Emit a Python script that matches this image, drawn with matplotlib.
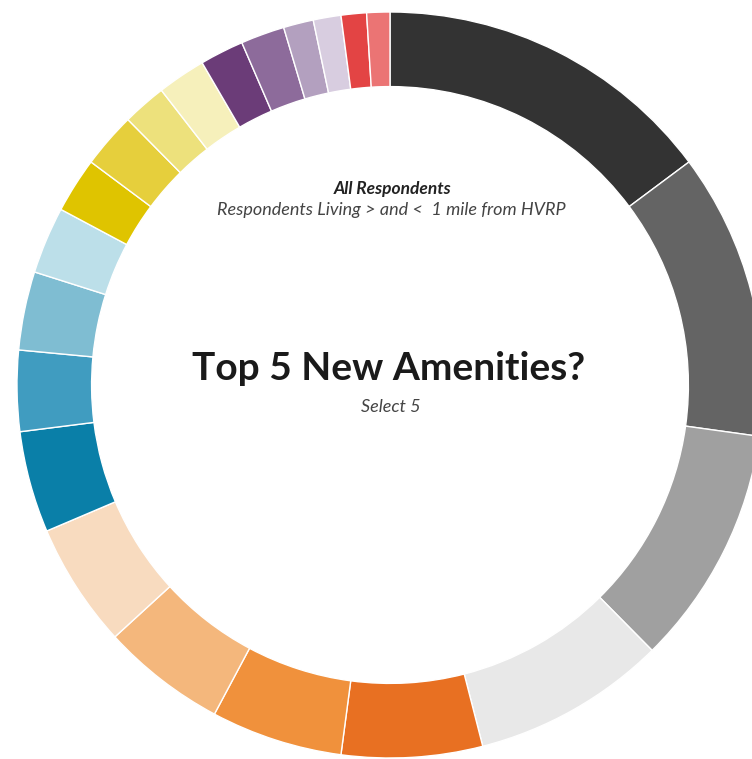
import matplotlib
matplotlib.use("Agg")
import matplotlib.pyplot as plt

# Share of votes per amenity (read as ring angle / 3.6, in percent)
categories = [f"Amenity {i}" for i in range(1, 23)]
values = [14.8, 12.4, 10.4, 8.4, 6.1, 5.7, 5.4, 5.4, 4.4, 3.5, 3.4,
          2.9, 2.4, 2.4, 1.9, 2.1, 1.9, 1.9, 1.3, 1.2, 1.1, 1.0]
colors = ["#333333", "#646464", "#a0a0a0", "#e8e8e8",
          "#e87022", "#f0913c", "#f4b77c", "#f8dbbf",
          "#0a7fa8", "#409cc0", "#7fbdd2", "#bcdfe9",
          "#dfc400", "#e6cf3c", "#ede17c", "#f6f0bb",
          "#6b3c78", "#8d6b9b", "#b3a0bf", "#d8cde0",
          "#e34444", "#eb7474"]

title = "Top 5 New Amenities?"
subtitle = "Select 5"
header = "All Respondents"
subheader = "Respondents Living > and <  1 mile from HVRP"

W, H = 752, 759
fig = plt.figure(figsize=(W / 100, H / 100), dpi=100)
ax = fig.add_axes([0, 0, 1, 1])

cx, cy, R = 390, H - 385, 373
ax.pie(values, colors=colors, startangle=90, counterclock=False,
       radius=R, center=(cx, cy),
       wedgeprops=dict(width=R * 0.2, edgecolor="white", linewidth=1.0))
ax.set_xlim(0, W)
ax.set_ylim(0, H)
ax.set_aspect("equal")
ax.axis("off")

ax.text(389, H - 369, title, ha="center", va="center", fontsize=28,
        fontweight="bold", family="Lato", color="#1a1a1a")
ax.text(391, H - 407, subtitle, ha="center", va="center", fontsize=13,
        style="italic", family="Lato", color="#444444")
ax.text(393, H - 189, header, ha="center", va="center", fontsize=12.5,
        style="italic", fontweight="bold", family="Lato", color="#222222")
ax.text(391, H - 210, subheader, ha="center", va="center", fontsize=13,
        style="italic", family="Lato", color="#444444")

fig.savefig("out.png", dpi=100)
